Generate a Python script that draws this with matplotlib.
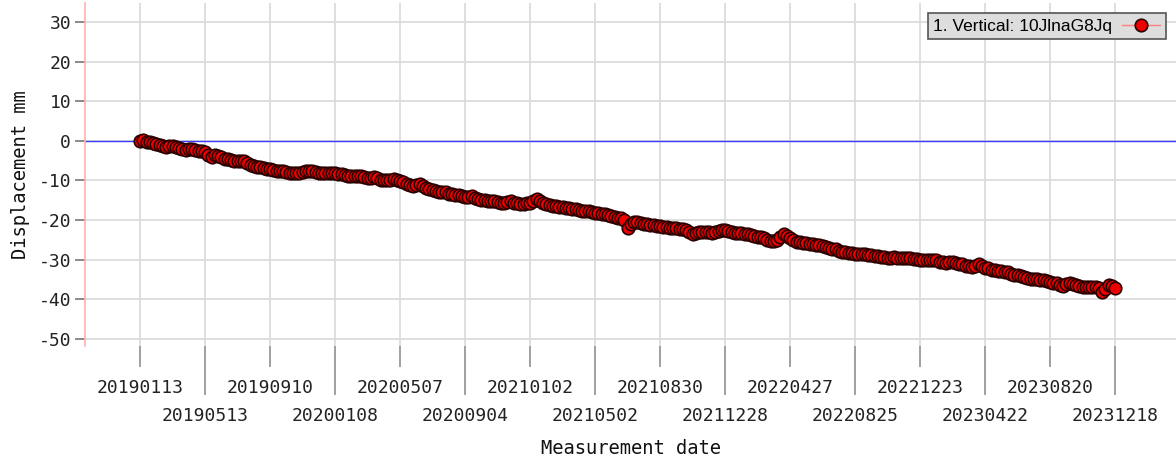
import pandas as pd
import matplotlib
matplotlib.use('Agg')
import matplotlib.pyplot as plt

plt.rcParams['axes.unicode_minus'] = False

# displacement (mm), one sample every 6 days starting 2019-01-13
start_date = '2019-01-13'
displacement = [
    0.0, 0.1, -0.2, -0.4, -0.5, -0.8, -1.0, -1.3, -1.5, -1.4,
    -1.2, -1.5, -1.8, -2.0, -2.2, -2.1, -2.0, -2.3, -2.5, -2.6,
    -2.8, -3.5, -4.0, -3.7, -3.8, -4.2, -4.5, -4.6, -4.8, -5.0,
    -5.2, -5.1, -5.0, -5.6, -6.0, -6.3, -6.5, -6.6, -6.8, -7.0,
    -7.0, -7.3, -7.5, -7.6, -7.5, -7.8, -8.0, -8.1, -8.2, -8.0,
    -7.8, -7.7, -7.6, -7.7, -7.8, -8.0, -8.0, -8.1, -8.2, -8.1,
    -8.0, -8.3, -8.5, -8.6, -8.8, -9.0, -9.0, -8.9, -8.8, -9.2,
    -9.5, -9.3, -9.2, -9.5, -9.8, -9.9, -10.0, -9.8, -9.6, -9.9,
    -10.2, -10.5, -10.8, -11.2, -11.5, -11.2, -11.0, -11.5, -12.0, -12.1,
    -12.3, -12.6, -12.8, -12.9, -13.0, -13.3, -13.5, -13.6, -13.8, -14.0,
    -14.2, -14.1, -14.0, -14.4, -14.8, -14.9, -15.0, -15.1, -15.2, -15.3,
    -15.5, -15.6, -15.6, -15.4, -15.3, -15.6, -15.8, -15.9, -16.0, -15.8,
    -15.6, -15.2, -14.8, -15.3, -15.8, -16.0, -16.3, -16.4, -16.5, -16.6,
    -16.8, -16.9, -17.0, -17.1, -17.2, -17.4, -17.6, -17.7, -17.8, -18.0,
    -18.2, -18.3, -18.5, -18.6, -18.8, -19.0, -19.2, -19.4, -19.6, -20.0,
    -22.0, -21.0, -20.5, -20.6, -20.8, -20.9, -21.0, -21.2, -21.3, -21.4,
    -21.6, -21.7, -21.8, -21.9, -22.0, -22.1, -22.2, -22.3, -22.5, -23.0,
    -23.6, -23.3, -23.0, -22.9, -23.0, -23.1, -23.2, -23.0, -22.8, -22.6,
    -22.5, -22.8, -23.0, -23.2, -23.3, -23.3, -23.4, -23.6, -23.8, -24.0,
    -24.2, -24.3, -24.5, -25.0, -25.4, -25.2, -25.0, -24.2, -23.6, -24.0,
    -24.5, -25.0, -25.5, -25.6, -25.8, -25.9, -26.0, -26.1, -26.3, -26.4,
    -26.6, -26.8, -27.0, -27.2, -27.4, -27.7, -28.0, -28.1, -28.3, -28.4,
    -28.5, -28.5, -28.6, -28.7, -28.8, -28.9, -29.0, -29.2, -29.3, -29.4,
    -29.5, -29.5, -29.4, -29.5, -29.6, -29.6, -29.5, -29.6, -29.8, -29.9,
    -30.0, -30.1, -30.2, -30.1, -30.0, -30.2, -30.5, -30.6, -30.8, -30.7,
    -30.6, -30.8, -31.0, -31.2, -31.5, -31.6, -31.8, -31.5, -31.2, -31.6,
    -32.0, -32.2, -32.5, -32.6, -32.8, -32.9, -33.0, -33.2, -33.5, -33.8,
    -34.0, -34.2, -34.5, -34.6, -34.8, -34.9, -35.0, -35.1, -35.2, -35.4,
    -35.6, -35.8, -36.0, -36.3, -36.6, -36.2, -35.8, -36.1, -36.5, -36.6,
    -36.8, -36.8, -36.8, -36.9, -37.0, -37.2, -38.2, -37.4, -36.5, -36.6,
    -37.2,
]
upper_labels = ['20190113', '20190910', '20200507', '20210102',
                '20210830', '20220427', '20221223', '20230820']
lower_labels = ['20190513', '20200108', '20200904', '20210502',
                '20211228', '20220825', '20230422', '20231218']
y_ticks = [30, 20, 10, 0, -10, -20, -30, -40, -50]
legend_label = '1. Vertical: 10JlnaG8Jq'

dates = pd.date_range(start_date, periods=len(displacement), freq='6D')
upper_dates = pd.to_datetime(upper_labels, format='%Y%m%d')
lower_dates = pd.to_datetime(lower_labels, format='%Y%m%d')

mono = 'DejaVu Sans Mono'

fig = plt.figure(figsize=(11.76, 4.59), dpi=100)
ax = fig.add_axes([0.0723, 0.2462, 0.9277, 0.7473])

ax.axhline(0, color='#3c3cff', lw=1.0, zorder=1)
ax.plot(dates, displacement, color='#ff8080', lw=1, marker='o', ms=9,
        mfc='#ee0000', mec='#2a0000', mew=1.2, label=legend_label, zorder=3)

ax.set_ylim(-51.8, 34.8)
ax.set_xlim(dates[0] - pd.Timedelta(days=101.5), dates[-1] + pd.Timedelta(days=112.6))
ax.set_yticks(y_ticks)

ax.set_xticks(upper_dates)
ax.set_xticklabels(upper_labels)
ax.set_xticks(lower_dates, minor=True)
ax.set_xticklabels(lower_labels, minor=True)

for s in ['top', 'right', 'bottom']:
    ax.spines[s].set_visible(False)
ax.spines['left'].set_color('#ffb0b0')
ax.spines['left'].set_linewidth(1.2)

ax.grid(True, which='both', color='#dcdcdc', lw=1.3)
ax.set_axisbelow(True)

ax.tick_params(axis='y', length=7, width=1.2, color='#777777',
               labelsize=13, labelcolor='#222222', pad=3)
ax.tick_params(axis='x', which='major', length=15, width=1.3, color='#999999',
               labelsize=13, labelcolor='#222222', pad=9)
ax.tick_params(axis='x', which='minor', length=35, width=1.3, color='#999999',
               labelsize=13, labelcolor='#222222', pad=9)
for lab in ax.get_xticklabels(which='both') + ax.get_yticklabels():
    lab.set_family(mono)

ax.set_xlabel('Measurement date', family=mono, fontsize=13.5, color='#111111',
              labelpad=10)
ax.set_ylabel('Displacement mm', family=mono, fontsize=13.5, color='#111111',
              labelpad=6)

leg = ax.legend(loc='upper right', markerfirst=False, fancybox=False,
                framealpha=1, facecolor='#dddddd', edgecolor='#555555',
                prop={'family': 'Liberation Sans', 'size': 12.5},
                borderaxespad=0.6, borderpad=0.3, handlelength=2.2,
                handletextpad=0.6)
leg.get_frame().set_linewidth(1.2)

fig.savefig('out.png', dpi=100)
